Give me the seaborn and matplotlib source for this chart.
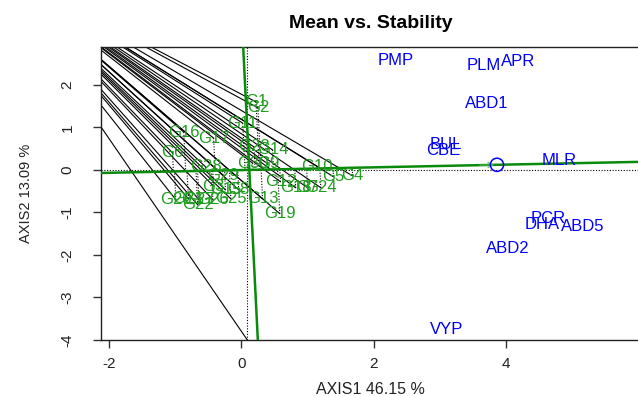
import numpy as np
import pandas as pd
import matplotlib
matplotlib.use("Agg")
import matplotlib.pyplot as plt
import seaborn as sns

# =========================
# Data
# =========================
env_names = ["PMP", "PLM", "APR", "ABD1", "BUL", "CBE", "MLR",
             "PCR", "DHA", "ABD5", "ABD2", "VYP"]
env_x = [2.33, 3.66, 4.18, 3.70, 3.08, 3.05, 4.80, 4.63, 4.55, 5.16, 4.03, 3.10]
env_y = [2.58, 2.46, 2.54, 1.57, 0.59, 0.45, 0.21, -1.15, -1.29, -1.34, -1.85, -3.76]

gen_names = ["G1", "G2", "G3", "G4", "G5", "G6", "G7", "G8", "G9", "G10",
             "G11", "G12", "G13", "G14", "G15", "G16", "G17", "G18", "G19", "G20",
             "G21", "G22", "G23", "G24", "G25", "G26", "G27", "G28", "G29", "G30"]
gen_x = [0.22, 0.25, -0.42, 1.68, 1.39, -1.04, 1.00, -0.04, 0.40, 1.14,
         0.02, 0.59, 0.32, 0.47, -0.24, -0.87, -0.42, 0.82, 0.58, -0.99,
         -0.80, -0.66, 0.19, 1.20, -0.16, -0.43, -0.64, -0.54, -0.28, 0.17]
gen_y = [1.60, 1.46, -0.38, -0.14, -0.16, 0.40, -0.42, -0.47, 0.14, 0.09,
         1.10, -0.28, -0.68, 0.47, -0.47, 0.89, 0.75, -0.42, -1.03, -0.70,
         -0.68, -0.82, 0.54, -0.42, -0.68, -0.70, -0.70, 0.07, -0.12, 0.16]

# biplot centre, average environment, common point of the black fan
center = (0.12, 0.0)
mean_env = (3.86, 0.12)
fan_point = (-3.84, 4.91)
offplot_end = (0.13, -4.09)
ref_v = 0.09
ref_h = 0.0

axis1_pct = 46.15
axis2_pct = 13.09

green_txt = "#1f9d1f"
green_line = "#0a8a0a"

# =========================
# Figure
# =========================
sns.set_theme(style="white")
plt.rcParams['font.family'] = ['Liberation Sans', 'DejaVu Sans']
plt.rcParams['axes.unicode_minus'] = False

fig = plt.figure(figsize=(6.38, 3.96), dpi=100)
ax = fig.add_axes([101 / 638, 56 / 396, 539 / 638, 293 / 396])
ax.set_xlim(-2.12, 6.02)
ax.set_ylim(-3.99, 2.89)

gen = pd.DataFrame({"name": gen_names, "x": gen_x, "y": gen_y})
env = pd.DataFrame({"name": env_names, "x": env_x, "y": env_y})

# reference lines
ax.axvline(ref_v, color="black", lw=0.8, ls=(0, (1, 1.5)))
ax.axhline(ref_h, color="black", lw=0.8, ls=(0, (1, 1.5)))

# average environment axis and its perpendicular
b = (mean_env[1] - center[1]) / (mean_env[0] - center[0])
ax.axline(center, slope=b, color=green_line, lw=1.8, zorder=3)
ax.axline(center, slope=-1 / b, color=green_line, lw=1.8, zorder=3)

# black fan lines and dotted projections
u = np.array([1.0, b]) / np.hypot(1.0, b)
c = np.array(center)
for gx, gy in zip(list(gen.x) + [offplot_end[0]], list(gen.y) + [offplot_end[1]]):
    ax.plot([fan_point[0], gx], [fan_point[1], gy], color="black", lw=0.8, zorder=2)
for gx, gy in zip(gen.x, gen.y):
    foot = c + np.dot(np.array([gx, gy]) - c, u) * u
    ax.plot([gx, foot[0]], [gy, foot[1]], color="black", lw=0.8,
            ls=(0, (1, 1.5)), zorder=2)

# mean environment marker with arrow head
ax.annotate("", xy=mean_env, xytext=(mean_env[0] - 0.3, mean_env[1] - 0.3 * b),
            arrowprops=dict(arrowstyle="->", color="#55bb55", lw=0.8,
                            mutation_scale=9), zorder=4)
sns.scatterplot(x=[mean_env[0]], y=[mean_env[1]], ax=ax, marker="o", s=90,
                facecolor="none", edgecolor="blue", linewidth=1.1, zorder=5)

# labels
for _, r in gen.iterrows():
    ax.text(r.x, r.y, r["name"], color=green_txt, fontsize=12,
            ha="center", va="center", zorder=6, clip_on=True)
for _, r in env.iterrows():
    ax.text(r.x, r.y, r["name"], color="blue", fontsize=12,
            ha="center", va="center", zorder=6, clip_on=True)

# axes styling
for s in ax.spines.values():
    s.set_color("#222222")
    s.set_linewidth(1.0)
ax.set_xticks([-2, 0, 2, 4])
ax.set_yticks([-4, -3, -2, -1, 0, 1, 2])
ax.tick_params(axis="both", direction="out", length=6, width=1,
               color="#333333", labelcolor="#222222", labelsize=11,
               left=True, bottom=True)
ax.tick_params(axis="x", pad=6)
ax.tick_params(axis="y", pad=13, labelrotation=90)
for t in ax.get_yticklabels():
    t.set_va("center")
ax.set_xlabel(f"AXIS1 {axis1_pct} %", fontsize=11.5, labelpad=8, color="#222222")
ax.set_ylabel(f"AXIS2 {axis2_pct} %", fontsize=10.5, labelpad=20, color="#222222")
ax.set_title("Mean vs. Stability", fontsize=14, fontweight="bold", pad=14, color="black")
ax.grid(False)

fig.savefig("out.png", dpi=100)
